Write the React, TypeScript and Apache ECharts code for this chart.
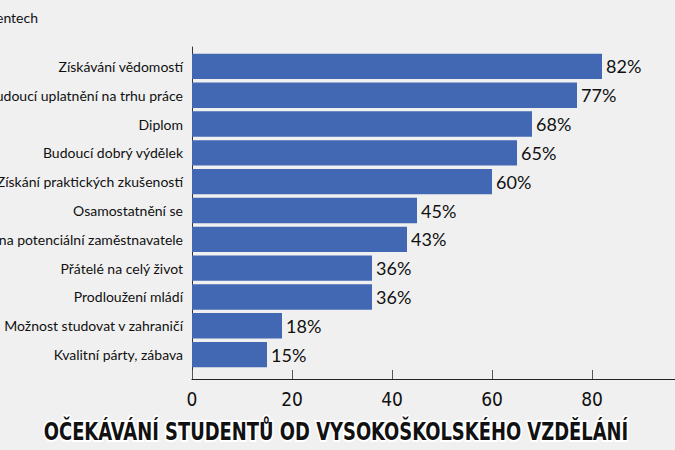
import React, { useEffect, useRef } from "react";
import * as echarts from "echarts";

const categories = [
  "Získávání vědomostí",
  "Budoucí uplatnění na trhu práce",
  "Diplom",
  "Budoucí dobrý výdělek",
  "Získání praktických zkušeností",
  "Osamostatnění se",
  "Dobrý dojem na potenciální zaměstnavatele",
  "Přátelé na celý život",
  "Prodloužení mládí",
  "Možnost studovat v zahraničí",
  "Kvalitní párty, zábava",
];
const values = [82, 77, 68, 65, 60, 45, 43, 36, 36, 18, 15];
const xTicks = [0, 20, 40, 60, 80];
const titleText = "OČEKÁVÁNÍ STUDENTŮ OD VYSOKOŠKOLSKÉHO VZDĚLÁNÍ";
const unitText = "Hodnoty v procentech";

const BAR = "#4268b4";
const LABEL_FONT = "Lato, 'Open Sans', sans-serif";

export default function App() {
  const ref = useRef<HTMLDivElement>(null);
  useEffect(() => {
    if (!ref.current) return;
    const chart = echarts.init(ref.current, undefined, { renderer: "svg" });
    chart.setOption({
      animation: false,
      backgroundColor: "#f0f0f0",
      graphic: [
        {
          type: "text",
          x: 38,
          y: 17,
          style: {
            text: unitText,
            font: `14px ${LABEL_FONT}`,
            fill: "#111",
            textAlign: "right",
            textVerticalAlign: "middle",
          },
        },
        {
          type: "text",
          x: 336,
          y: 432,
          scaleX: 0.83,
          style: {
            x: 0,
            y: 0,
            text: titleText,
            font: "bold 24px 'Liberation Sans Narrow', 'DejaVu Sans Condensed', sans-serif",
            fill: "#111",
            stroke: "#ffffff",
            lineWidth: 4,
            textAlign: "center",
            textVerticalAlign: "middle",
            shadowColor: "rgba(0,0,0,0.4)",
            shadowBlur: 4,
          },
        },
      ],
      grid: [
        { left: 192, right: -17, top: 52, bottom: 81, outerBoundsMode: "none", containLabel: false },
        { left: 192, right: -17, top: 47, bottom: 71, outerBoundsMode: "none", containLabel: false },
      ],
      xAxis: [
        {
          gridIndex: 0,
          type: "value",
          min: 0,
          max: 100,
          show: false,
        },
        {
          gridIndex: 1,
          type: "value",
          min: 0,
          max: 100,
          interval: 20,
          axisLine: { show: true, lineStyle: { color: "#222", width: 1.2 } },
          axisTick: { show: true, inside: true, length: 9, lineStyle: { color: "#555" } },
          splitLine: { show: false },
          axisLabel: {
            margin: 10,
            fontSize: 19,
            color: "#111",
            fontFamily: "'Liberation Sans Narrow', 'DejaVu Sans Condensed', sans-serif",
            customValues: xTicks,
          },
        },
      ],
      yAxis: [
        {
          gridIndex: 0,
          type: "category",
          data: categories,
          inverse: true,
          axisLine: { show: false },
          axisTick: { show: false },
          axisLabel: {
            margin: 9,
            fontSize: 14,
            color: "#111",
            fontFamily: LABEL_FONT,
          },
        },
        {
          gridIndex: 1,
          type: "category",
          data: [""],
          axisLine: { show: true, lineStyle: { color: "#333", width: 1 } },
          axisTick: { show: false },
          axisLabel: { show: false },
        },
      ],
      series: [
        {
          type: "bar",
          xAxisIndex: 0,
          yAxisIndex: 0,
          data: values,
          barCategoryGap: "12%",
          itemStyle: { color: BAR },
          label: {
            show: true,
            position: "right",
            distance: 4,
            formatter: "{c}%",
            fontSize: 18,
            color: "#111",
            fontFamily: LABEL_FONT,
          },
        },
      ],
    });
    return () => chart.dispose();
  }, []);
  return (
    <div style={{ position: "fixed", left: 0, top: 0, width: 675, height: 450, overflow: "hidden" }}>
      <div ref={ref} style={{ width: 675, height: 450 }} />
    </div>
  );
}
